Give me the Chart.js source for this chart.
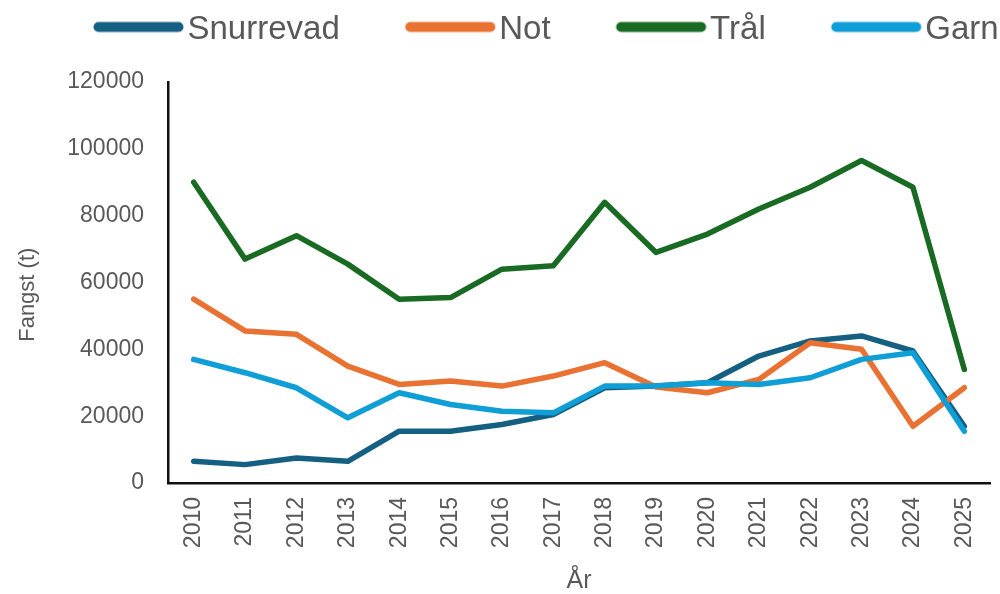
<!DOCTYPE html>
<html>
<head>
<meta charset="utf-8">
<script src="https://cdn.jsdelivr.net/npm/chart.js@4.4.1/dist/chart.umd.min.js"></script>
<style>
  html, body { margin: 0; padding: 0; background: #ffffff; }
  #wrap { width: 1000px; height: 594px; position: relative; }
</style>
</head>
<body>
<div id="wrap"><canvas id="chart"></canvas></div>
<script>
// Catch per gear type (tonnes), 2010–2025
const years = ['2010','2011','2012','2013','2014','2015','2016','2017',
               '2018','2019','2020','2021','2022','2023','2024','2025'];
const snurrevad = [6500, 5500, 7500, 6500, 15500, 15500, 17500, 20500,
                   28500, 29000, 30000, 38000, 42500, 44000, 39500, 17000];
const not = [55000, 45500, 44500, 35000, 29500, 30500, 29000, 32000,
             36000, 28700, 27000, 31000, 42000, 40000, 17000, 28500];
const traal = [90000, 67000, 74000, 65500, 55000, 55500, 64000, 65000,
               84000, 69000, 74500, 82000, 88500, 96500, 88500, 34000];
const garn = [37000, 33000, 28500, 19500, 27000, 23500, 21500, 21000,
              29000, 29000, 30000, 29500, 31500, 37000, 39000, 15500];
const seriesNames = ['Snurrevad', 'Not', 'Trål', 'Garn'];
const seriesColors = ['#156082', '#E97132', '#196B24', '#0F9ED5'];
const yMin = 0, yMax = 120000, yStep = 20000;

const textGrey = '#595959';
const baseFont = '"Liberation Sans", Arial, sans-serif';

// Wide rounded swatch used as the legend marker
function legendSwatch(color) {
  const c = document.createElement('canvas');
  c.width = 170; c.height = 20;
  const g = c.getContext('2d');
  g.strokeStyle = color;
  g.lineWidth = 10;
  g.lineCap = 'round';
  g.beginPath();
  g.moveTo(77.5, 7.5);
  g.lineTo(157.5, 7.5);
  g.stroke();
  return c;
}
const swatches = seriesColors.map(legendSwatch);

function makeSet(label, data, i, order) {
  return {
    label, data,
    borderColor: seriesColors[i],
    backgroundColor: seriesColors[i],
    borderWidth: 5.5,
    borderJoinStyle: 'round',
    borderCapStyle: 'round',
    pointRadius: 0,
    pointHoverRadius: 0,
    tension: 0,
    fill: false,
    order
  };
}

// Keep the legend on a single row (the last label may run to the edge)
// and give it a fixed band height
const legendBand = {
  id: 'legendBand',
  beforeInit(chart) {
    const legend = chart.legend;
    const fit = legend.fit;
    legend.fit = function () {
      const avail = this.maxWidth;
      this.maxWidth = 1400;
      fit.call(this);
      this.maxWidth = avail;
      this.width = avail;
      this.height = 82;
    };
    const draw = legend.draw;
    legend.draw = function () {
      const right = this.right;
      this.right = 1400;
      draw.call(this);
      this.right = right;
    };
  }
};

new Chart(document.getElementById('chart'), {
  type: 'line',
  data: {
    labels: years,
    datasets: [
      makeSet(seriesNames[0], snurrevad, 0, 4),
      makeSet(seriesNames[1], not, 1, 3),
      makeSet(seriesNames[2], traal, 2, 2),
      makeSet(seriesNames[3], garn, 3, 1)
    ]
  },
  plugins: [legendBand],
  options: {
    responsive: true,
    maintainAspectRatio: false,
    animation: false,
    layout: { padding: { left: 28, right: 10, top: 0, bottom: 0 } },
    plugins: {
      tooltip: { enabled: false },
      legend: {
        position: 'top',
        align: 'start',
        labels: {
          usePointStyle: true,
          pointStyleWidth: 130,
          boxHeight: 10,
          padding: 13,
          color: textGrey,
          font: { family: baseFont, size: 33 },
          sort: (a, b) => a.datasetIndex - b.datasetIndex,
          generateLabels(chart) {
            const items = Chart.defaults.plugins.legend.labels.generateLabels(chart);
            items.forEach(it => { it.pointStyle = swatches[it.datasetIndex]; });
            return items;
          }
        }
      }
    },
    scales: {
      x: {
        type: 'category',
        offset: true,
        grid: { display: false, drawTicks: false },
        border: { display: true, color: '#111111', width: 2.5 },
        ticks: {
          autoSkip: false,
          minRotation: 90,
          maxRotation: 90,
          padding: 14,
          color: textGrey,
          font: { family: baseFont, size: 23 }
        },
        title: {
          display: true,
          text: 'År',
          color: textGrey,
          font: { family: baseFont, size: 25 },
          padding: { top: 0, bottom: -2 }
        },
        afterFit(scale) {
          scale.height = 111;
          scale.paddingLeft = 0;
          scale.paddingRight = 0;
        }
      },
      y: {
        min: yMin,
        max: yMax,
        grid: { display: false, drawTicks: false },
        border: { display: true, color: '#111111', width: 2.5 },
        ticks: {
          stepSize: yStep,
          padding: 24,
          color: textGrey,
          font: { family: baseFont, size: 23 },
          callback: v => String(v)
        },
        title: {
          display: true,
          text: 'Fangst (t)    ',
          color: textGrey,
          font: { family: baseFont, size: 22 },
          padding: { top: -13.2, bottom: 0 }
        },
        afterFit(scale) {
          scale.width = 140;
        }
      }
    }
  }
});
</script>
</body>
</html>
